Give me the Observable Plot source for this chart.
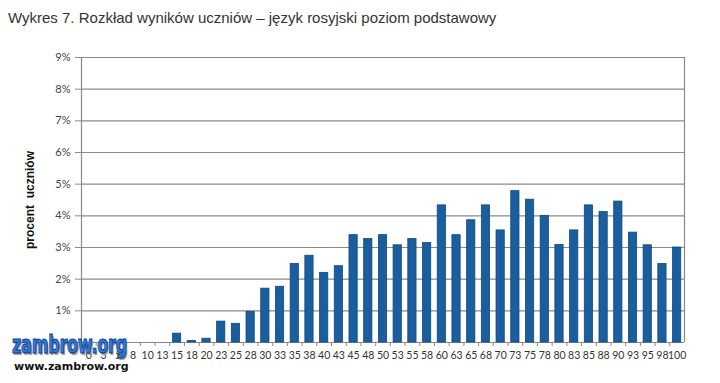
<!DOCTYPE html>
<html>
<head>
<meta charset="utf-8">
<script src="https://cdn.jsdelivr.net/npm/d3@7"></script>
<script src="https://cdn.jsdelivr.net/npm/@observablehq/plot@0.6"></script>
<style>
  body { margin: 0; background: #fff; width: 720px; height: 383px; overflow: hidden; position: relative; }
  #title { font-family: "Liberation Sans", Arial, sans-serif; font-size: 15px; color: #333; position: absolute; left: 8px; top: 9px; }
  #chart { position: absolute; left: 0; top: 40px; }
  g[aria-label="y-axis label"] text { font-weight: bold; font-family: "Liberation Sans", Arial, sans-serif; font-size: 12px; fill: #111; }
  #wm { position: absolute; left: 12px; top: 333px; }
  #wm .big { display: inline-block; transform: scaleX(0.67); transform-origin: left center; font-family: "DejaVu Sans", sans-serif; font-size: 24px; font-weight: bold; color: #2f7be0; -webkit-text-stroke: 1px #0b3d8a; letter-spacing: -0.4px; line-height: 25px; text-shadow: 2px 2px 1px #999; }
  #wm .small { font-family: "DejaVu Sans", sans-serif; font-size: 11px; font-weight: bold; color: #111; margin-left: 2px; line-height: 12px; margin-top: 3px; }
</style>
</head>
<body>
<div id="title">Wykres 7. Rozkład wyników uczniów – język rosyjski poziom podstawowy</div>
<div id="chart"></div>
<div id="wm"><div class="big">zambrow.org</div><div class="small">www.zambrow.org</div></div>
<script>
const categories = ["0","3","5","8","10","13","15","18","20","23","25","28","30","33","35","38","40","43","45","48","50","53","55","58","60","63","65","68","70","73","75","78","80","83","85","88","90","93","95","98","100"];
const values = [0,0,0,0,0,0,0.28,0.05,0.12,0.66,0.59,0.97,1.7,1.76,2.48,2.74,2.2,2.41,3.39,3.27,3.39,3.07,3.27,3.14,4.33,3.39,3.86,4.33,3.54,4.78,4.51,4.0,3.08,3.54,4.33,4.12,4.45,3.47,3.07,2.48,3.0];
const yTicks = [0,1,2,3,4,5,6,7,8,9];
const yLabels = ["","1%","2%","3%","4%","5%","6%","7%","8%","9%"];

const data = categories.map((c, i) => ({cat: c, v: values[i]}));
const W = 720, H = 343, mL = 81, mR = 36;
const band = (W - mL - mR) / categories.length;
const inset = band * 0.22;

const chart = Plot.plot({
  width: W,
  height: H,
  marginTop: 17,
  marginBottom: 41,
  marginLeft: mL,
  marginRight: mR,
  style: { fontFamily: "'Liberation Sans Narrow', Lato, sans-serif", fontSize: "10.5px", color: "#333", background: "#fff" },
  x: { domain: categories, padding: 0, round: false },
  y: { domain: [0, 9] },
  marks: [
    Plot.ruleY(yTicks, { stroke: "#8a8a8a", strokeWidth: 1.2 }),
    Plot.ruleX([0], { x: () => categories[0], dx: -band / 2, y1: 0, y2: 9, stroke: "#8a8a8a", strokeWidth: 1.2 }),
    Plot.ruleX([0], { x: () => categories[categories.length - 1], dx: band / 2, y1: 0, y2: 9, stroke: "#8a8a8a", strokeWidth: 1.2 }),
    Plot.barY(data, { x: "cat", y: "v", insetLeft: inset, insetRight: inset, fill: "#1a5e9e", stroke: "#0f4a82", strokeWidth: 0.8 }),
    Plot.axisX({ tickSize: 0, tickPadding: 9, fill: "#333", label: null }),
    Plot.axisX({ tickSize: 4, text: null, dx: -band / 2, stroke: "#8a8a8a", label: null }),
    Plot.axisY({ ticks: yTicks, tickFormat: (d) => yLabels[d], tickSize: 6, tickPadding: 5, stroke: "#8a8a8a", fontSize: 11, fill: "#444",
                 fontFamily: "Lato, sans-serif",
                 label: "procent  uczniów", labelAnchor: "center", labelArrow: "none", labelOffset: 56 })
  ]
});
document.getElementById("chart").appendChild(chart);
</script>
</body>
</html>
